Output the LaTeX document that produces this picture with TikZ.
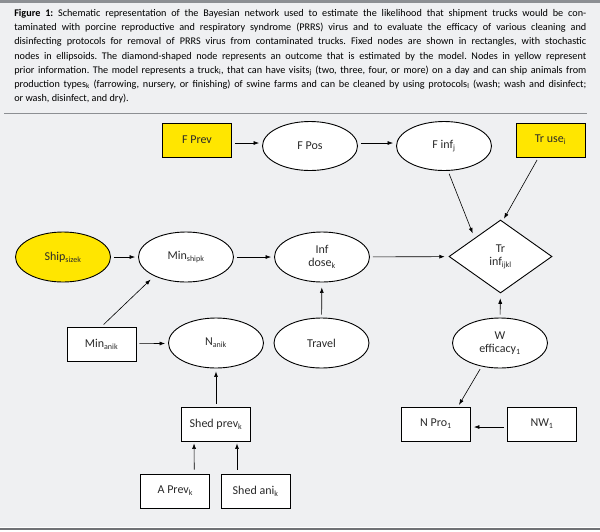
\documentclass[tikz,border=0pt]{standalone}
\usepackage{fontspec}
\setmainfont{Carlito}
\usepackage{tikz}
\usetikzlibrary{shapes.geometric,arrows.meta}
\definecolor{bggrey}{HTML}{EFF0F2}
\definecolor{prioryellow}{HTML}{FFE600}
\definecolor{rulegrey}{HTML}{8C8F93}
\definecolor{inkgrey}{HTML}{2A2A2A}
\begin{document}
\begin{tikzpicture}[->,>={Latex[length=5.5pt,width=4pt]},line width=0.6pt,x=1pt,y=-1pt,shorten >=3pt,shorten <=3pt,
  every node/.style={text=inkgrey,font=\fontsize{12}{13}\selectfont},
  fixed/.style={rectangle,draw=black,line width=0.9pt,fill=white,minimum width=69pt,minimum height=34pt,inner sep=0pt},
  stoch/.style={ellipse,draw=black,line width=0.9pt,fill=white,minimum width=95pt,minimum height=49pt,inner sep=0pt,align=center},
  outcome/.style={diamond,draw=black,line width=0.9pt,fill=white,minimum width=103pt,minimum height=73pt,inner sep=0pt,align=center},
  prior/.style={fill=prioryellow}]

\useasboundingbox(0,0)rectangle(600,531);
\fill[bggrey](0,3)rectangle(600,527);
\draw[-,shorten <=0pt,shorten >=0pt,rulegrey,line width=3pt](0,1.5)--(600,1.5);
\draw[-,shorten <=0pt,shorten >=0pt,rulegrey,line width=0.8pt](4,113)--(587,113);
\draw[-,shorten <=0pt,shorten >=0pt,rulegrey!80!black,line width=2pt](0,528.5)--(600,528.5);

\node[anchor=north west,text width=572pt,align=justify,inner sep=0pt,text=black,font=\fontsize{10.2}{14.2}\selectfont\frenchspacing](Cap)at(14,9){%
\textbf{Figure 1:} Schematic representation of the Bayesian network used to estimate the likelihood that shipment trucks would be con-\linebreak
taminated with porcine reproductive and respiratory syndrome (PRRS) virus and to evaluate the efficacy of various cleaning and\linebreak
disinfecting protocols for removal of PRRS virus from contaminated trucks. Fixed nodes are shown in rectangles, with stochastic\linebreak
nodes in ellipsoids. The diamond-shaped node represents an outcome that is estimated by the model. Nodes in yellow represent\linebreak
prior information. The model represents a truck\textsubscript{i}, that can have visits\textsubscript{j} (two, three, four, or more) on a day and can ship animals from\linebreak
production types\textsubscript{k} (farrowing, nursery, or finishing) of swine farms and can be cleaned by using protocols\textsubscript{l} (wash; wash and disinfect;\linebreak
or wash, disinfect, and dry).};

\node[fixed,prior](FPrev)at(197,140){F Prev};
\node[stoch](FPos)at(310,146){F Pos};
\node[stoch](Finf)at(444,146){F inf\textsubscript{j}};
\node[fixed,prior](Truse)at(550.5,140){Tr use\textsubscript{i}};
\node[stoch,prior,minimum height=50pt](Ship)at(63,257){Ship\textsubscript{sizek}};
\node[stoch,minimum height=50pt](Minship)at(186,257){Min\textsubscript{shipk}};
\node[stoch,minimum height=50pt](Dose)at(322,257){Inf\\dose\textsubscript{k}};
\node[outcome](Tr)at(500.5,256.5){Tr\\inf\textsubscript{ijkl}};
\node[fixed](Minani)at(101.5,344){Min\textsubscript{anik}};
\node[stoch,minimum height=50pt](Nani)at(216,343){N\textsubscript{anik}};
\node[stoch,minimum height=50pt](Travel)at(321.5,343){Travel};
\node[stoch,minimum height=50pt](W)at(500,343){W\\efficacy\textsubscript{1}};
\node[fixed](Shed)at(216,424){Shed prev\textsubscript{k}};
\node[fixed](NPro)at(436,424){N Pro\textsubscript{1}};
\node[fixed](NW)at(542,424){NW\textsubscript{1}};
\node[fixed](APrev)at(175.3,491){A Prev\textsubscript{k}};
\node[fixed](Ani)at(255.6,491){Shed ani\textsubscript{k}};

\path([yshift=-3pt]FPrev.east)edge([yshift=3pt]FPos.west)
	([yshift=3pt]FPos.east)edge([yshift=3pt]Finf.west)
	([xshift=4pt]Finf.south)edge[shorten >=5pt](Tr.north west)
	([xshift=-12pt]Truse.south)edge[shorten >=1pt]([xshift=3pt]Tr.north)
	(Ship)edge(Minship)
	(Minship)edge(Dose)
	(Dose)edge[shorten >=4pt](Tr)
	(Minani.north)edge[shorten >=5pt](Minship.211)
	(Minani)edge(Nani)
	(Travel)edge[shorten >=5pt](Dose)
	(W)edge[shorten >=5pt](Tr)
	(W.232)edge[shorten >=2pt]([xshift=22pt]NPro.north)
	([yshift=-3pt]NW.west)edge([yshift=-3pt]NPro.east)
	(Shed)edge(Nani)
	([xshift=19pt]APrev.north)edge[shorten <=4pt,shorten >=2pt]([xshift=-22pt]Shed.south)
	([xshift=-18.6pt]Ani.north)edge[shorten <=4pt,shorten >=2pt]([xshift=21pt]Shed.south);

\end{tikzpicture}
\end{document}
